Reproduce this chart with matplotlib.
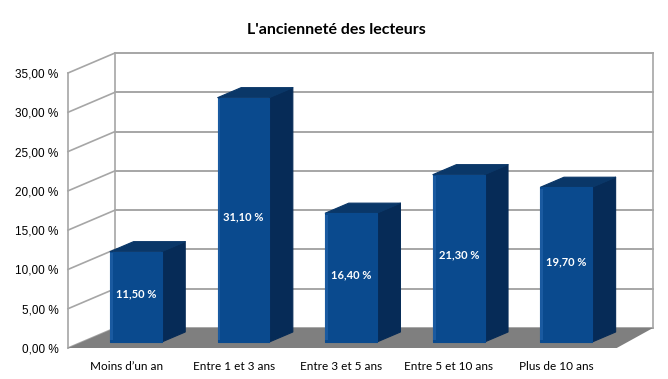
import matplotlib
matplotlib.use("Agg")
import matplotlib.pyplot as plt
from matplotlib.patches import Polygon

categories = ["Moins d\u2019un an", "Entre 1 et 3 ans", "Entre 3 et 5 ans", "Entre 5 et 10 ans", "Plus de 10 ans"]
values = [11.5, 31.1, 16.4, 21.3, 19.7]
yticks = [0, 5, 10, 15, 20, 25, 30, 35]
title = "L'ancienneté des lecteurs"

W, H = 668, 379
fig = plt.figure(figsize=(W / 100, H / 100), dpi=100)
fig.patch.set_facecolor("white")
# front plane of the 3D box in pixels
x0, x1 = 68, 606
y0, y1 = 348, 73
ax = fig.add_axes([x0 / W, 1 - y0 / H, (x1 - x0) / W, (y0 - y1) / H])
ax.set_xlim(-0.5, len(categories) - 0.5)
ax.set_ylim(0, 35)
for s in ax.spines.values():
    s.set_visible(False)
ax.patch.set_visible(False)

DX = 47 / ((x1 - x0) / len(categories))
DY = 20 / ((y0 - y1) / 35)


def P(x, y, f):
    return (x + f * DX, y + f * DY)


grid_c = "#a6a6a6"
xl, xr = -0.5, len(categories) - 0.5
for v in yticks:
    a, b = P(xl, v, 1), P(xr, v, 1)
    ax.plot([a[0], b[0]], [a[1], b[1]], color=grid_c, lw=1.4, clip_on=False, zorder=1)
    a, b = P(xl, v, 0), P(xl, v, 1)
    ax.plot([a[0], b[0]], [a[1], b[1]], color=grid_c, lw=1.2, clip_on=False, zorder=1)
for (xx, f) in [(xl, 0), (xl, 1), (xr, 1)]:
    a, b = P(xx, 0, f), P(xx, 35, f)
    ax.plot([a[0], b[0]], [a[1], b[1]], color=grid_c, lw=1.2, clip_on=False, zorder=1)

floor = Polygon([P(xl, 0, 0), P(xr + 0.1, 0, 0), P(xr, 0, 1), P(xl, 0, 1)],
                closed=True, facecolor="#7f7f7f", edgecolor="none", clip_on=False, zorder=2)
ax.add_patch(floor)

w = 0.24
f0, f1 = 0.3, 0.8
front_c, side_c, top_c = "#0a4a8e", "#062b57", "#0a3768"
edge_hl = "#1a5aa0"
for i, v in enumerate(values):
    front = [P(i - w, 0, f0), P(i + w, 0, f0), P(i + w, v, f0), P(i - w, v, f0)]
    side = [P(i + w, 0, f0), P(i + w, 0, f1), P(i + w, v, f1), P(i + w, v, f0)]
    top = [P(i - w, v, f0), P(i + w, v, f0), P(i + w, v, f1), P(i - w, v, f1)]
    for pts, c in [(side, side_c), (top, top_c), (front, front_c)]:
        ax.add_patch(Polygon(pts, closed=True, facecolor=c, edgecolor=c, lw=0.8,
                             clip_on=False, zorder=3, joinstyle="round"))
    # subtle bevel highlight on the left edge of the front face
    hl = [P(i - w, 0.2, f0), P(i - w + 0.025, 0.2, f0), P(i - w + 0.025, v - 0.2, f0), P(i - w, v - 0.2, f0)]
    ax.add_patch(Polygon(hl, closed=True, facecolor=edge_hl, edgecolor="none",
                         clip_on=False, zorder=3.5))
    cx, cy = P(i, v / 2 + 0.4, f0)
    ax.text(cx, cy, f"{v:.2f} %".replace(".", ","), color="white", ha="center", va="center",
            fontsize=8, fontweight="bold", family=["Lato", "DejaVu Sans"], zorder=4)

ax.set_yticks(yticks)
ax.set_yticklabels([f"{t:.2f} %".replace(".", ",") for t in yticks],
                   fontsize=8.5, family=["Liberation Sans", "DejaVu Sans"])
ax.set_xticks([i + 0.04 for i in range(len(categories))])
ax.set_xticklabels(categories, fontsize=8.5, family=["Lato", "DejaVu Sans"])
ax.tick_params(axis="y", length=0, pad=7)
ax.tick_params(axis="x", length=0, pad=9)

fig.text(336 / W, 1 - 30 / H, title, ha="center", va="center", fontsize=11.5,
         fontweight="bold", family=["Lato", "DejaVu Sans"])

fig.savefig("out.png", dpi=100)
